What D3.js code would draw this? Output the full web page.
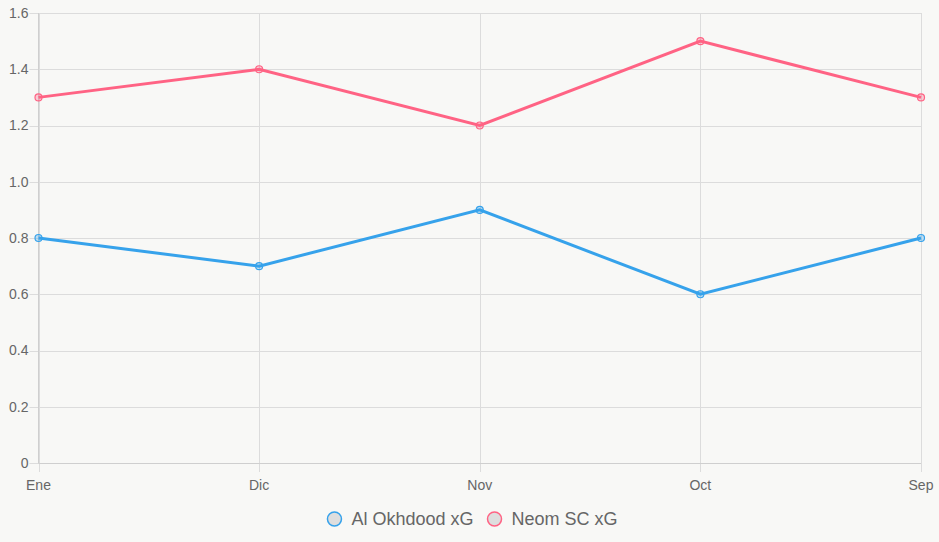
<!DOCTYPE html>
<html><head><meta charset="utf-8">
<script src="https://cdn.jsdelivr.net/npm/d3@7"></script>
<style>
html,body{margin:0;padding:0;background:#f8f8f6;}
svg{display:block;font-family:"Liberation Sans",Arial,sans-serif;}
</style></head>
<body>
<svg id="c" width="939" height="542"></svg>
<script>
const categories = ["Ene","Dic","Nov","Oct","Sep"];
const seriesNames = ["Al Okhdood xG","Neom SC xG"];
const alOkhdood = [0.8,0.7,0.9,0.6,0.8];
const neom = [1.3,1.4,1.2,1.5,1.3];
const yTicks = [0,0.2,0.4,0.6,0.8,1.0,1.2,1.4,1.6];
const yTickLabels = ["0","0.2","0.4","0.6","0.8","1.0","1.2","1.4","1.6"];
const colors = ["#36A2EB","#FF6384"];

const svg = d3.select("#c");
const L=38.5, R=921, T=13, B=463;
const x = d3.scalePoint().domain(categories).range([L,R]);
const y = d3.scaleLinear().domain([0,1.6]).range([B,T]);
const grid="#dcdcdc", txt="#666";

const gy = svg.append("g");
yTicks.forEach((t,i)=>{
  gy.append("line").attr("x1",L-9).attr("x2",R).attr("y1",Math.round(y(t))+0.5).attr("y2",Math.round(y(t))+0.5)
    .attr("stroke",grid).attr("stroke-width",1);
  gy.append("text").attr("x",L-10).attr("y",y(t)).attr("dy","0.35em").attr("text-anchor","end")
    .attr("fill",txt).attr("font-size",14).text(yTickLabels[i]);
});
const gx = svg.append("g");
categories.forEach(c=>{
  gx.append("line").attr("x1",Math.round(x(c))+0.5).attr("x2",Math.round(x(c))+0.5).attr("y1",T).attr("y2",B+9)
    .attr("stroke",grid).attr("stroke-width",1);
  gx.append("text").attr("x",x(c)).attr("y",B+22).attr("dy","0.35em").attr("text-anchor","middle")
    .attr("fill",txt).attr("font-size",14).text(c);
});
svg.append("line").attr("x1",L).attr("x2",L).attr("y1",T).attr("y2",B).attr("stroke","#cfcfcf");
svg.append("line").attr("x1",L).attr("x2",R).attr("y1",B+0.5).attr("y2",B+0.5).attr("stroke","#cfcfcf");

const series=[alOkhdood,neom];
const line = d3.line().x((d,i)=>x(categories[i])).y(d=>y(d));
series.forEach((s,k)=>{
  svg.append("path").datum(s).attr("d",line).attr("fill","none")
    .attr("stroke",colors[k]).attr("stroke-width",3).attr("stroke-linejoin","miter");
  svg.append("g").selectAll("circle").data(s).join("circle")
    .attr("cx",(d,i)=>x(categories[i])).attr("cy",d=>y(d)).attr("r",3.5)
    .attr("fill",d3.color(colors[k]).copy({opacity:0.3})).attr("stroke",colors[k]).attr("stroke-width",1.2);
});

const lg = svg.append("g");
const fs=18;
const items = seriesNames.map((n,k)=>{
  const t = lg.append("text").attr("font-size",fs).attr("fill",txt).attr("y",519).attr("dy","0.35em").text(n);
  return {t,w:t.node().getComputedTextLength(),k};
});
const boxW=14, gapT=10, gapI=14;
let total = items.reduce((a,it)=>a+boxW+gapT+it.w,0)+gapI*(items.length-1);
let cx0 = 939/2 - total/2 + 3;
items.forEach(it=>{
  lg.append("circle").attr("cx",cx0+boxW/2).attr("cy",519).attr("r",7)
    .attr("fill","#dedede").attr("stroke",colors[it.k]).attr("stroke-width",1.5);
  it.t.attr("x",cx0+boxW+gapT);
  cx0 += boxW+gapT+it.w+gapI;
});
</script>
</body></html>
